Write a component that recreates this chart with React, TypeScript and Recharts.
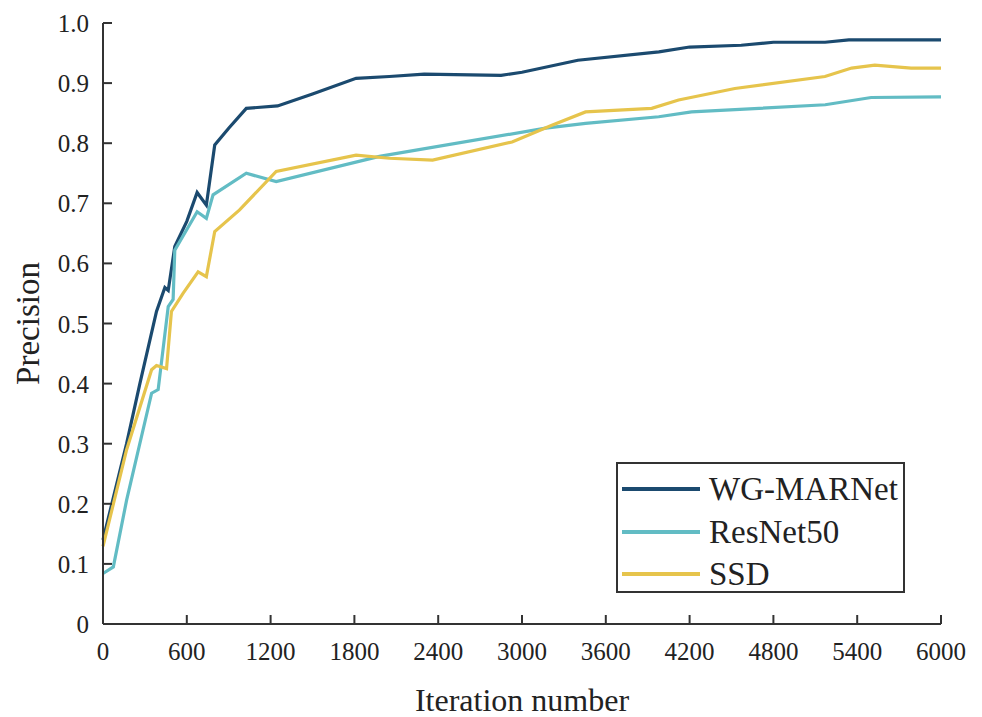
import { Line, LineChart, XAxis, YAxis } from "recharts";

const xTicks = [0, 600, 1200, 1800, 2400, 3000, 3600, 4200, 4800, 5400, 6000];
const yTicks = [0, 0.1, 0.2, 0.3, 0.4, 0.5, 0.6, 0.7, 0.8, 0.9, 1.0];
const yTickLabels = ["0", "0.1", "0.2", "0.3", "0.4", "0.5", "0.6", "0.7", "0.8", "0.9", "1.0"];

const wgIters = [0, 169, 264, 383, 443, 467, 514, 600, 674, 740, 800, 900, 1026, 1250, 1500, 1812, 2050, 2300, 2850, 3000, 3400, 3980, 4200, 4570, 4800, 5170, 5340, 6000];
const wgPrecision = [0.14, 0.3, 0.4, 0.52, 0.56, 0.555, 0.628, 0.67, 0.718, 0.697, 0.797, 0.825, 0.858, 0.862, 0.882, 0.908, 0.911, 0.915, 0.913, 0.918, 0.938, 0.952, 0.96, 0.963, 0.968, 0.968, 0.972, 0.972];

const resIters = [0, 74, 169, 348, 395, 467, 502, 514, 674, 740, 788, 1026, 1240, 1979, 3169, 3455, 3979, 4214, 5171, 5500, 6000];
const resPrecision = [0.084, 0.095, 0.206, 0.384, 0.39, 0.528, 0.54, 0.622, 0.686, 0.675, 0.714, 0.75, 0.736, 0.778, 0.825, 0.833, 0.844, 0.852, 0.864, 0.876, 0.877];

const ssdIters = [0, 169, 348, 383, 455, 490, 573, 681, 740, 800, 978, 1240, 1812, 2050, 2360, 2929, 3214, 3455, 3929, 4121, 4524, 5169, 5360, 5526, 5786, 6000];
const ssdPrecision = [0.129, 0.29, 0.423, 0.43, 0.425, 0.52, 0.55, 0.586, 0.578, 0.653, 0.689, 0.753, 0.78, 0.775, 0.772, 0.802, 0.83, 0.852, 0.858, 0.872, 0.891, 0.911, 0.925, 0.93, 0.925, 0.925];

const seriesNames = ["WG-MARNet", "ResNet50", "SSD"];
const seriesColors = ["#1b4a6f", "#62bcc4", "#e6c44c"];

const toPoints = (iters: number[], vals: number[]) =>
  iters.map((it, i) => ({ iter: it, value: vals[i] }));

const seriesData = [
  toPoints(wgIters, wgPrecision),
  toPoints(resIters, resPrecision),
  toPoints(ssdIters, ssdPrecision),
];

const axisColor = "#333";
const textColor = "#222";
const serif = '"Liberation Serif", "Times New Roman", serif';

// ticks point inward, so draw them by hand
const XTick = (props: any) => {
  const { x, y, payload } = props;
  return (
    <g>
      <line x1={x} y1={y} x2={x} y2={y - 9} stroke={axisColor} strokeWidth={2} />
      <text x={x} y={y + 36} textAnchor="middle" fontSize={25} fill={textColor} fontFamily={serif}>
        {payload.value}
      </text>
    </g>
  );
};

const YTick = (props: any) => {
  const { x, y, payload } = props;
  const idx = yTicks.findIndex((t) => Math.abs(t - payload.value) < 1e-6);
  return (
    <g>
      <line x1={x} y1={y} x2={x + 9} y2={y} stroke={axisColor} strokeWidth={2} />
      <text x={x - 14} y={y + 9} textAnchor="end" fontSize={25} fill={textColor} fontFamily={serif}>
        {idx >= 0 ? yTickLabels[idx] : payload.value}
      </text>
    </g>
  );
};

const YLabel = (props: any) => {
  const { viewBox } = props;
  const cy = viewBox.y + viewBox.height / 2;
  const cx = 28;
  return (
    <text
      x={cx}
      y={cy}
      transform={`rotate(-90 ${cx} ${cy})`}
      textAnchor="middle"
      dominantBaseline="central"
      fontSize={33}
      fill={textColor}
      fontFamily={serif}
    >
      Precision
    </text>
  );
};

export default function App() {
  return (
    <div
      style={{
        position: "absolute",
        left: 0,
        top: 0,
        width: 982,
        height: 717,
        background: "#fff",
        fontFamily: serif,
      }}
    >
      <LineChart width={982} height={717} margin={{ top: 23, right: 41, bottom: 0, left: 0 }}>
        <XAxis
          dataKey="iter"
          type="number"
          domain={[0, 6000]}
          ticks={xTicks}
          tickSize={0}
          tickMargin={0}
          tickLine={false}
          tick={<XTick />}
          height={93}
          axisLine={{ stroke: axisColor, strokeWidth: 2 }}
          allowDuplicatedCategory={false}
          label={{ value: "Iteration number", position: "insideBottom", offset: 6, fontSize: 32, fill: textColor }}
        />
        <XAxis
          xAxisId="top"
          orientation="top"
          type="number"
          domain={[0, 6000]}
          height={0}
          tick={false}
          tickLine={false}
          axisLine={{ stroke: axisColor, strokeWidth: 2 }}
        />
        <YAxis
          type="number"
          domain={[0, 1]}
          ticks={yTicks}
          width={103}
          tickSize={0}
          tickMargin={0}
          tickLine={false}
          tick={<YTick />}
          axisLine={{ stroke: axisColor, strokeWidth: 2 }}
          label={<YLabel />}
        />
        <YAxis
          yAxisId="right"
          orientation="right"
          type="number"
          domain={[0, 1]}
          width={0}
          tick={false}
          tickLine={false}
          axisLine={{ stroke: axisColor, strokeWidth: 2 }}
        />
        {seriesData.map((d, i) => (
          <Line
            key={seriesNames[i]}
            data={d}
            dataKey="value"
            name={seriesNames[i]}
            type="linear"
            stroke={seriesColors[i]}
            strokeWidth={3.2}
            dot={false}
            activeDot={false}
            isAnimationActive={false}
          />
        ))}
      </LineChart>
      <div
        style={{
          position: "absolute",
          left: 616,
          top: 462,
          width: 285,
          height: 127,
          border: `2px solid ${axisColor}`,
          background: "#fff",
        }}
      >
        {seriesNames.map((name, i) => (
          <div
            key={name}
            style={{
              position: "absolute",
              left: 0,
              top: 4 + i * 42.5,
              height: 42,
              display: "flex",
              alignItems: "center",
            }}
          >
            <div style={{ width: 78, height: 4, marginLeft: 4, background: seriesColors[i] }} />
            <span style={{ marginLeft: 9, fontSize: 33, color: textColor, lineHeight: "42px" }}>{name}</span>
          </div>
        ))}
      </div>
    </div>
  );
}
